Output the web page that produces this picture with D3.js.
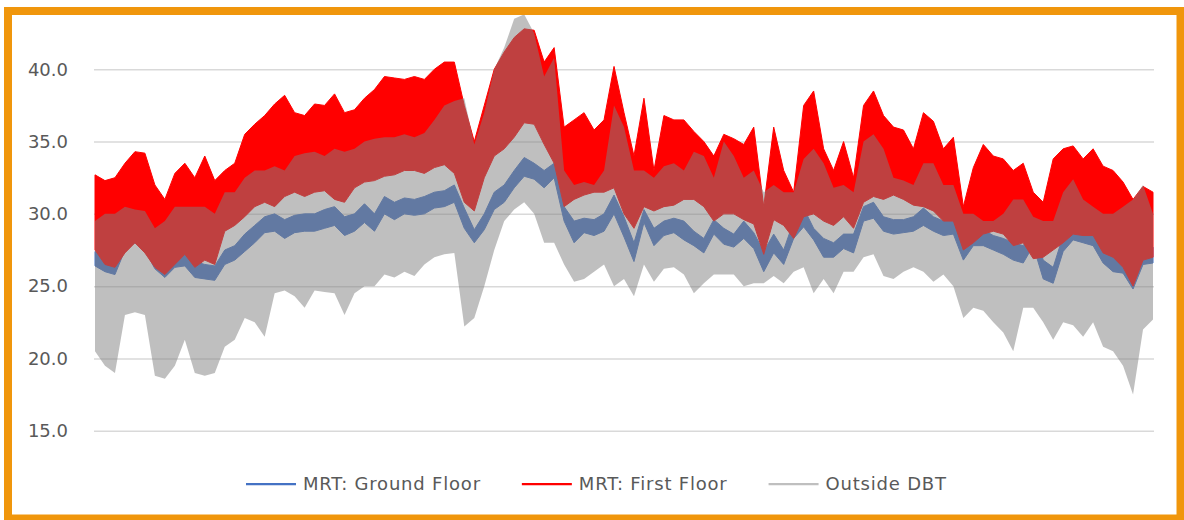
<!DOCTYPE html>
<html>
<head>
<meta charset="utf-8">
<script src="https://cdn.jsdelivr.net/npm/d3@7"></script>
<style>
  html, body { margin: 0; padding: 0; background: #ffffff; }
  svg { display: block; }
  text { font-family: "DejaVu Sans", sans-serif; fill: #595959; }
</style>
</head>
<body>
<svg id="chart" width="1184" height="520"></svg>
<script>
// Series names, legend order
let seriesNames = ["MRT: Ground Floor", "MRT: First Floor", "Outside DBT"];
let yTicks = [15, 20, 25, 30, 35, 40];

// Each series is hourly, so it is kept as a daily low / high envelope, read in 10 px steps
let groundHigh = [27.4,27.0,26.8,28.5,28.9,28.5,27.2,26.6,27.3,27.4,26.7,26.5,26.4,27.5,27.8,28.6,29.2,29.8,30.0,29.6,
  29.9,30.0,30.0,30.3,30.5,29.8,30.0,30.7,30.0,31.2,30.8,31.1,31.0,31.2,31.5,31.6,32.0,30.4,28.9,30.0,
  31.5,32.0,33.0,33.9,33.5,33.0,33.5,30.5,29.5,29.7,29.6,30.0,31.3,29.8,28.0,30.3,29.0,29.5,29.7,29.5,
  28.8,28.3,29.6,29.0,28.6,29.5,28.7,27.4,28.6,27.5,29.5,30.4,29.0,28.3,28.0,28.6,28.6,30.5,30.8,29.8,
  29.6,29.6,29.8,30.4,29.8,29.5,29.6,28.0,29.0,28.9,28.5,28.3,28.0,27.8,29.0,26.8,26.3,28.5,29.2,29.0,
  28.8,27.5,27.2,27.0,25.9,27.6,27.7];
let groundLow = [26.4,26.0,25.8,27.5,28.0,27.5,26.2,25.6,26.3,26.4,25.6,25.5,25.4,26.5,26.8,27.4,28.0,28.7,28.8,28.3,
  28.7,28.8,28.8,29.0,29.2,28.5,28.8,29.4,28.8,30.0,29.6,30.0,29.9,30.0,30.4,30.5,30.8,29.0,28.0,28.9,
  30.3,30.8,31.8,32.6,32.4,31.8,32.5,29.5,28.0,28.7,28.5,28.8,30.0,28.4,26.7,29.4,27.8,28.5,28.7,28.2,
  27.8,27.3,28.6,27.9,27.7,28.3,27.6,26.0,27.3,26.5,28.3,29.1,28.2,27.0,27.0,27.6,27.3,29.5,29.7,28.8,
  28.6,28.7,28.8,29.2,28.8,28.5,28.6,26.8,27.8,27.8,27.5,27.2,26.8,26.6,27.8,25.5,25.2,27.4,28.2,28.0,
  27.8,26.6,26.0,25.9,24.8,26.5,26.6];

let firstHigh = [32.7,32.3,32.5,33.5,34.3,34.2,32.0,31.0,32.8,33.5,32.5,34.0,32.3,33.0,33.5,35.5,36.2,36.8,37.6,38.2,
  37.0,36.8,37.6,37.5,38.3,37.0,37.2,38.0,38.6,39.5,39.4,39.3,39.5,39.3,40.0,40.5,40.5,37.5,35.0,37.5,
  40.0,41.2,42.2,42.8,42.7,40.5,41.5,36.0,36.5,37.0,35.8,36.5,40.2,37.0,34.0,38.0,33.0,36.8,36.5,36.5,
  35.7,35.0,34.0,35.5,35.2,34.8,36.0,30.5,36.0,33.0,31.5,37.5,38.5,34.5,33.0,35.0,32.5,37.5,38.5,36.8,
  36.0,35.8,34.5,37.0,36.4,34.5,35.3,30.5,33.2,34.8,34.0,33.8,33.0,33.5,31.5,30.8,33.8,34.5,34.7,33.8,
  34.5,33.3,33.0,32.2,31.0,31.9,31.5];
let firstLow = [27.5,26.5,26.3,27.3,28.0,27.3,26.3,25.8,26.5,27.2,26.3,26.8,26.5,28.8,29.2,29.8,30.5,30.8,30.5,31.2,
  31.5,31.2,31.5,31.6,31.0,30.8,31.8,32.2,32.3,32.6,32.7,33.0,33.0,32.8,33.2,33.4,32.8,30.8,30.2,32.5,
  34.0,34.5,35.3,36.3,36.2,34.8,33.5,30.5,31.0,31.3,31.5,31.5,31.8,30.0,29.0,30.5,30.2,30.5,30.6,31.0,
  31.0,30.5,29.5,30.0,30.0,29.6,29.3,27.2,29.6,29.2,28.3,29.8,30.0,29.5,29.2,29.8,29.0,30.8,31.2,31.0,
  31.3,31.0,30.6,30.5,30.2,29.5,29.5,27.5,28.0,28.6,28.8,28.6,27.8,28.0,26.9,27.0,27.5,28.0,28.6,28.5,
  28.5,27.3,27.0,26.3,25.0,26.8,27.0];

let outsideHigh = [29.5,30.0,30.0,30.5,30.3,30.2,29.0,29.5,30.5,30.5,30.5,30.5,30.0,31.5,31.5,32.5,33.0,33.0,33.3,33.0,
  34.0,34.2,34.3,34.0,34.5,34.3,34.5,35.0,35.2,35.3,35.3,35.5,35.3,35.6,36.5,37.5,37.8,38.0,34.8,37.0,
  40.0,41.5,43.5,43.8,42.5,39.5,40.8,33.0,32.0,32.2,32.0,33.0,37.5,36.0,33.0,33.0,32.5,33.3,33.5,33.0,
  34.3,34.0,32.5,35.0,34.0,32.5,33.0,31.5,32.0,31.5,31.5,33.8,34.5,33.5,31.8,32.0,31.5,35.0,35.5,34.5,
  32.5,32.3,32.0,33.5,33.5,32.0,32.0,30.0,30.0,29.5,29.5,30.0,31.0,31.0,29.8,29.5,29.5,31.5,32.4,31.0,
  30.5,30.0,30.0,30.5,31.0,32.0,30.0];
let outsideLow = [20.5,19.5,19.0,23.0,23.2,23.0,18.8,18.6,19.5,21.3,19.0,18.8,19.0,20.8,21.3,22.8,22.5,21.5,24.5,24.7,
  24.3,23.5,24.7,24.6,24.5,23.0,24.5,25.0,25.0,25.8,25.6,26.0,25.7,26.5,27.0,27.2,27.3,22.2,22.8,25.0,
  27.5,29.5,30.3,30.8,30.0,28.0,28.0,26.5,25.3,25.5,26.0,26.5,25.0,25.5,24.3,26.5,25.3,26.2,26.3,25.8,
  24.5,25.2,25.8,25.8,25.8,25.0,25.2,25.2,25.7,25.2,26.0,26.3,24.5,25.5,24.5,26.0,26.0,27.0,27.2,25.7,
  25.5,26.0,26.3,26.0,25.3,25.8,25.0,22.8,23.5,23.3,22.5,21.8,20.5,23.5,23.5,22.5,21.3,22.5,22.3,21.5,
  22.5,20.8,20.5,19.5,17.5,22.0,22.7];

let seriesColors = ["#4472C4", "#FF0000", "#808080"];
let seriesOpacity = [1, 1, 0.5];

// General Variables
let chart = d3.select("#chart");
let plotLeft = 94, plotRight = 1154;

let x = d3.scaleLinear()
    .domain([0, groundHigh.length - 1])
    .range([95, 1153]);

let y = d3.scaleLinear()
    .domain([15, 40])
    .range([430.7, 69.3]);

chart.append("rect")
    .attr("width", 1184)
    .attr("height", 520)
    .attr("fill", "#ffffff");

chart.append("clipPath")
    .attr("id", "plotclip")
    .append("rect")
    .attr("x", plotLeft - 4)
    .attr("y", 15)
    .attr("width", plotRight - plotLeft + 8)
    .attr("height", 430);

// gridlines + tick labels
let yAxis = d3.axisLeft(y)
    .tickValues(yTicks)
    .tickSize(-(plotRight - plotLeft))
    .tickPadding(26)
    .tickFormat(d3.format(".1f"));

let axisG = chart.append("g")
    .attr("transform", "translate(" + plotLeft + ",0)")
    .call(yAxis);

axisG.select(".domain").remove();
axisG.selectAll(".tick line")
    .attr("stroke", "#D9D9D9")
    .attr("stroke-width", 1.5);
axisG.selectAll(".tick text")
    .attr("fill", "#595959")
    .style("font-size", "18px")
    .style("font-family", "'DejaVu Sans', sans-serif");

// series, drawn ground floor first and outside air on top (half transparent)
let bands = [
    [groundLow, groundHigh],
    [firstLow, firstHigh],
    [outsideLow, outsideHigh]
];

let plot = chart.append("g").attr("clip-path", "url(#plotclip)");

bands.forEach(function(b, k) {
    let band = d3.area()
        .x(function(d, i) { return x(i); })
        .y0(function(d, i) { return y(b[0][i]); })
        .y1(function(d, i) { return y(b[1][i]); });

    plot.append("path")
        .datum(b[0])
        .attr("d", band)
        .attr("fill", seriesColors[k])
        .attr("fill-opacity", seriesOpacity[k])
        .attr("stroke", k < 2 ? seriesColors[k] : "none")
        .attr("stroke-width", 1);
});

// legend
let legend = chart.append("g");
let lx = 246, ly = 484;

seriesNames.forEach(function(name, k) {
    legend.append("line")
        .attr("x1", lx)
        .attr("x2", lx + 50)
        .attr("y1", ly)
        .attr("y2", ly)
        .attr("stroke", seriesColors[k])
        .attr("stroke-opacity", seriesOpacity[k])
        .attr("stroke-width", 2.25);

    let t = legend.append("text")
        .attr("x", lx + 57)
        .attr("y", ly)
        .attr("dy", "0.36em")
        .style("font-size", "18px")
        .style("letter-spacing", "0.8px")
        .text(name);

    lx = lx + 57 + t.node().getComputedTextLength() + 41;
});

// orange frame
chart.append("rect")
    .attr("x", 8)
    .attr("y", 11)
    .attr("width", 1172.5)
    .attr("height", 507.5)
    .attr("fill", "none")
    .attr("stroke", "#F0960C")
    .attr("stroke-width", 8);
</script>
</body>
</html>
